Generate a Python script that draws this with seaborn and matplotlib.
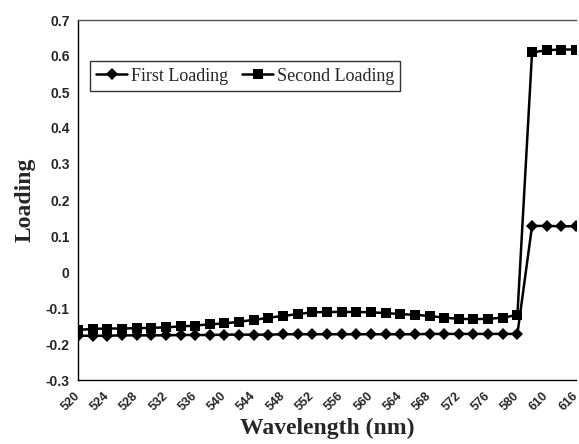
import numpy as np
import pandas as pd
import matplotlib
matplotlib.use("Agg")
import matplotlib.pyplot as plt
import matplotlib.transforms as mtransforms
import seaborn as sns

# wavelength categories (nm)
wavelengths = list(range(520, 581, 2)) + [607, 610, 613, 616]

first_loading = [-0.177, -0.177, -0.177, -0.176, -0.176, -0.176, -0.176, -0.175,
                 -0.175, -0.175, -0.174, -0.174, -0.174, -0.174, -0.173, -0.173,
                 -0.173, -0.173, -0.173, -0.173, -0.173, -0.173, -0.173, -0.173,
                 -0.172, -0.172, -0.172, -0.172, -0.172, -0.172, -0.172,
                 0.128, 0.128, 0.127, 0.127]

second_loading = [-0.161, -0.158, -0.157, -0.157, -0.156, -0.155, -0.154, -0.151,
                  -0.149, -0.145, -0.143, -0.138, -0.133, -0.127, -0.122, -0.117,
                  -0.112, -0.111, -0.111, -0.111, -0.112, -0.114, -0.117, -0.119,
                  -0.122, -0.127, -0.130, -0.131, -0.130, -0.127, -0.119,
                  0.610, 0.616, 0.618, 0.618]

tick_labels = [str(w) for w in wavelengths[::2]]

df = pd.DataFrame({
    "pos": list(range(len(wavelengths))) * 2,
    "Loading": first_loading + second_loading,
    "series": ["First Loading"] * len(wavelengths) + ["Second Loading"] * len(wavelengths),
})

sns.set_style("white")
fig = plt.figure(figsize=(5.79, 4.44), dpi=100)
ax = fig.add_axes([78 / 579, 64 / 444, 498 / 579, 360 / 444])

sns.lineplot(data=df, x="pos", y="Loading", hue="series", style="series",
             palette=["black", "black"], markers=["D", "s"], dashes=False,
             markersize=6.5, linewidth=1.8, markeredgewidth=0, ax=ax, legend=True)

ax.set_xlim(0, len(wavelengths) - 1)
ax.set_ylim(-0.3, 0.7)
ax.set_yticks(np.arange(-0.3, 0.71, 0.1))
ax.set_yticklabels(["-0.3", "-0.2", "-0.1", "0", "0.1", "0.2", "0.3", "0.4", "0.5", "0.6", "0.7"],
                   fontdict={"family": "Liberation Sans", "weight": "bold", "size": 10})
ax.set_xticks(range(0, len(wavelengths), 2))
ax.set_xticklabels(tick_labels, rotation=45, ha="right", va="center", rotation_mode="anchor",
                   fontdict={"family": "Liberation Sans", "weight": "bold", "size": 9})
shift = mtransforms.ScaledTranslation(-6 / 72, 0, fig.dpi_scale_trans)
for lab in ax.get_xticklabels():
    lab.set_transform(lab.get_transform() + shift)
ax.tick_params(axis="y", direction="out", length=4, width=1, pad=2)
ax.tick_params(axis="x", direction="in", length=0, pad=10)

for side in ["left", "bottom", "top"]:
    ax.spines[side].set_color("black")
    ax.spines[side].set_linewidth(1.0)
ax.spines["top"].set_color("#555555")
ax.spines["right"].set_visible(False)

ax.set_xlabel("Wavelength (nm)", family="Liberation Serif", weight="bold", size=17, labelpad=3)
ax.set_ylabel("Loading", family="Liberation Serif", weight="bold", size=17, labelpad=7)

leg = ax.legend(loc="upper left", bbox_to_anchor=(0.006, 0.91), ncol=2, frameon=True,
                fancybox=False, edgecolor="black", handlelength=1.7, columnspacing=0.8,
                borderpad=0.35, handletextpad=0.2,
                prop={"family": "Liberation Serif", "size": 13})
leg.get_frame().set_linewidth(1.0)

fig.savefig("out.png", dpi=100)
